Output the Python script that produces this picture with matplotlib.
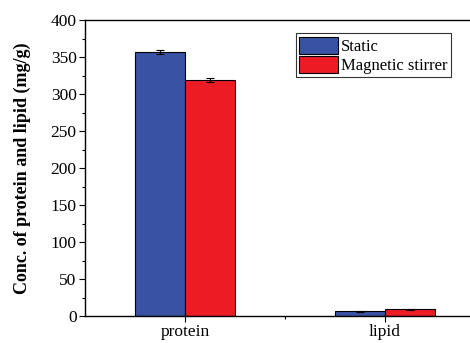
import matplotlib
matplotlib.use("Agg")
import matplotlib.pyplot as plt
from matplotlib.ticker import MultipleLocator, FixedLocator
import numpy as np

# data
categories = ["protein", "lipid"]
series_names = ["Static", "Magnetic stirrer"]
static_vals = [357, 6.5]
static_err = [3.0, 0.5]
magnetic_vals = [319, 9.0]
magnetic_err = [2.5, 0.5]

plt.rcParams["font.family"] = ["Liberation Serif", "DejaVu Serif"]

fig = plt.figure(figsize=(4.70, 3.43), dpi=100)
ax = fig.add_axes([85 / 470, 1 - 316 / 343, 400 / 470, 296 / 343])

x = np.arange(1, len(categories) + 1)
w = 0.25
ax.bar(x - w / 2, static_vals, w, yerr=static_err, color="#3953a4",
       edgecolor="black", linewidth=0.8, capsize=3,
       error_kw=dict(elinewidth=0.8, capthick=0.8), label=series_names[0])
ax.bar(x + w / 2, magnetic_vals, w, yerr=magnetic_err, color="#ed1c24",
       edgecolor="black", linewidth=0.8, capsize=3,
       error_kw=dict(elinewidth=0.8, capthick=0.8), label=series_names[1])

ax.set_xlim(0.5, 2.5)
ax.set_ylim(0, 400)
ax.set_xticks(x)
ax.set_xticklabels(categories)
ax.xaxis.set_minor_locator(FixedLocator([1.5]))
ax.yaxis.set_major_locator(MultipleLocator(50))
ax.yaxis.set_minor_locator(MultipleLocator(25))
ax.tick_params(axis="both", which="major", direction="out", length=4,
               width=0.8, labelsize=12.5)
ax.tick_params(axis="both", which="minor", direction="out", length=2.5,
               width=0.8)
ax.tick_params(axis="x", pad=2)
ax.tick_params(axis="y", pad=2)
for s in ax.spines.values():
    s.set_linewidth(1.0)

ax.set_ylabel("Conc. of protein and lipid (mg/g)", fontsize=13,
              fontweight="bold", labelpad=14)

leg = ax.legend(loc="upper left", bbox_to_anchor=(211 / 400, 0.955),
                fontsize=12, frameon=True, fancybox=False, borderpad=0.2,
                handlelength=2.3, handleheight=1.2, handletextpad=0.2,
                labelspacing=0.05, borderaxespad=0)
leg.get_frame().set_edgecolor("black")
leg.get_frame().set_linewidth(0.8)

fig.savefig("out.png", dpi=100)
